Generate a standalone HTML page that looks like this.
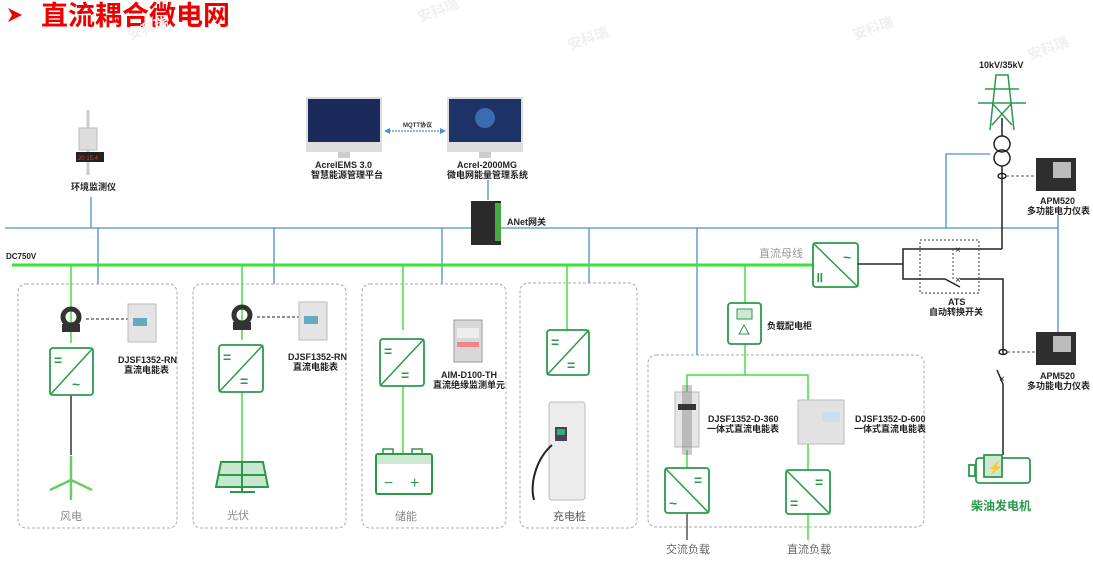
<!DOCTYPE html>
<html><head><meta charset="utf-8"><style>
html,body{margin:0;padding:0;background:#fff;}
svg{display:block;font-family:"Liberation Sans","Noto Sans CJK SC",sans-serif;}
.t{font-size:9px;font-weight:bold;fill:#222;}
.g{font-size:11px;fill:#888;}
</style></head><body>
<svg width="1093" height="561" viewBox="0 0 1093 561" xmlns="http://www.w3.org/2000/svg">
<polygon points="8,8 22,15 8,22 12,15" fill="#e00"/>
<text x="41" y="25" font-size="27" font-weight="bold" fill="#e00" font-family="Liberation Sans,Noto Sans CJK SC,sans-serif">直流耦合微电网</text>
<g fill="#efefef" font-size="14" font-weight="bold">
<text x="420" y="22" transform="rotate(-20 420 22)">安科瑞</text>
<text x="570" y="50" transform="rotate(-20 570 50)">安科瑞</text>
<text x="855" y="40" transform="rotate(-20 855 40)">安科瑞</text>
<text x="1030" y="60" transform="rotate(-20 1030 60)">安科瑞</text>
<text x="130" y="40" transform="rotate(-20 130 40)">安科瑞</text>
</g>

<g fill="none" stroke="#aaa" stroke-dasharray="3,2" stroke-width="1">
<rect x="18" y="284" width="159" height="244" rx="8"/>
<rect x="193" y="284" width="153" height="244" rx="8"/>
<rect x="362" y="284" width="144" height="244" rx="8"/>
<rect x="520" y="283" width="117" height="245" rx="8"/>
<rect x="648" y="355" width="276" height="172" rx="8"/>
</g>

<g stroke="#4a90d0" stroke-width="1.3" fill="none">
<line x1="5" y1="228" x2="1058" y2="228"/>
<line x1="91" y1="197" x2="91" y2="228"/>
<line x1="98" y1="228" x2="98" y2="284"/>
<line x1="274" y1="228" x2="274" y2="284"/>
<line x1="442" y1="228" x2="442" y2="284"/>
<line x1="589" y1="228" x2="589" y2="283"/>
<line x1="697" y1="228" x2="697" y2="355"/>
<polyline points="946,228 946,154 990,154"/>
<line x1="1058" y1="215" x2="1058" y2="332"/>
<line x1="488" y1="180" x2="488" y2="200"/>
<line x1="386" y1="131" x2="445" y2="131" stroke-dasharray="2,1"/>
</g>
<polygon points="384,131 390,128 390,134" fill="#4a90d0"/>
<polygon points="446,131 440,128 440,134" fill="#4a90d0"/>
<text x="403" y="127" font-size="6" font-weight="bold" fill="#333">MQTT协议</text>

<g stroke="#33e633" stroke-width="3"><line x1="12" y1="265" x2="815" y2="265"/></g>
<g stroke="#44dd44" stroke-width="1.5" fill="none">
<line x1="71" y1="265" x2="71" y2="343"/>
<line x1="242" y1="265" x2="242" y2="340"/>
<line x1="242" y1="385" x2="242" y2="462"/>
<line x1="403" y1="265" x2="403" y2="330"/>
<line x1="403" y1="378" x2="403" y2="455"/>
<line x1="567" y1="265" x2="567" y2="330"/>
<line x1="745" y1="265" x2="745" y2="303"/>
<line x1="745" y1="344" x2="745" y2="375"/>
<polyline points="687,395 687,375 808,375 808,400"/>
<line x1="687" y1="450" x2="687" y2="468"/>
<line x1="808" y1="444" x2="808" y2="470"/>
<line x1="808" y1="514" x2="808" y2="540"/>
</g>
<line x1="71" y1="395" x2="71" y2="455" stroke="#333" stroke-width="1.5"/>
<line x1="687" y1="513" x2="687" y2="540" stroke="#555" stroke-width="1.5"/>

<text x="6" y="259" font-size="8" font-weight="bold" fill="#222">DC750V</text>

<g fill="#fff" stroke="#2a9a4a" stroke-width="1.8">
<rect x="50" y="348" width="43" height="47" rx="3"/>
<rect x="219" y="345" width="44" height="47" rx="3"/>
<rect x="380" y="339" width="44" height="47" rx="3"/>
<rect x="547" y="330" width="42" height="45" rx="3"/>
<rect x="813" y="243" width="45" height="44" rx="3"/>
<rect x="665" y="468" width="44" height="45" rx="3"/>
<rect x="786" y="470" width="44" height="44" rx="3"/>
</g>
<g stroke="#2a9a4a" stroke-width="1.5">
<line x1="50" y1="395" x2="93" y2="348"/>
<line x1="219" y1="392" x2="263" y2="345"/>
<line x1="380" y1="386" x2="424" y2="339"/>
<line x1="547" y1="375" x2="589" y2="330"/>
<line x1="813" y1="243" x2="858" y2="287"/>
<line x1="665" y1="468" x2="709" y2="513"/>
<line x1="786" y1="470" x2="830" y2="514"/>
</g>
<g fill="#2a9a4a" font-size="14" font-weight="bold">
<text x="54" y="365">=</text><text x="72" y="389">~</text>
<text x="223" y="362">=</text><text x="240" y="386">=</text>
<text x="384" y="356">=</text><text x="401" y="380">=</text>
<text x="551" y="347">=</text><text x="567" y="370">=</text>
<text x="815" y="282">॥</text><text x="843" y="262">~</text>
<text x="694" y="485">=</text><text x="669" y="508">~</text>
<text x="815" y="487">=</text><text x="790" y="508">=</text>
</g>

<g>
<circle cx="71" cy="317" r="8" fill="none" stroke="#333" stroke-width="5"/>
<rect x="62" y="324" width="18" height="8" fill="#333"/>
<circle cx="242" cy="315" r="8" fill="none" stroke="#333" stroke-width="5"/>
<rect x="233" y="322" width="18" height="8" fill="#333"/>
<line x1="86" y1="319" x2="128" y2="319" stroke="#222" stroke-dasharray="3,2"/>
<line x1="257" y1="317" x2="299" y2="317" stroke="#222" stroke-dasharray="3,2"/>
<rect x="128" y="304" width="28" height="38" fill="#e4e4e4" stroke="#bbb"/>
<rect x="133" y="318" width="14" height="8" fill="#6ab"/>
<rect x="299" y="302" width="28" height="38" fill="#e4e4e4" stroke="#bbb"/>
<rect x="304" y="316" width="14" height="8" fill="#6ab"/>
<rect x="454" y="320" width="28" height="42" fill="#d8d8d8" stroke="#999"/>
<rect x="457" y="328" width="22" height="10" fill="#eee"/>
<rect x="457" y="342" width="22" height="5" fill="#e88"/>
</g>
<text class="t" x="118" y="363">DJSF1352-RN</text>
<text class="t" x="124" y="373">直流电能表</text>
<text class="t" x="288" y="360">DJSF1352-RN</text>
<text class="t" x="293" y="370">直流电能表</text>
<text class="t" x="441" y="378">AIM-D100-TH</text>
<text class="t" x="433" y="388">直流绝缘监测单元</text>

<g stroke="#6c6" stroke-width="2.5" fill="none">
<line x1="71" y1="480" x2="71" y2="500"/>
<line x1="71" y1="480" x2="71" y2="456"/>
<line x1="71" y1="480" x2="50" y2="490"/>
<line x1="71" y1="480" x2="92" y2="490"/>
</g>
<text class="g" x="60" y="520">风电</text>
<g stroke="#2a9a4a" stroke-width="2" fill="#c9e7cf">
<polygon points="221,462 263,462 268,487 216,487"/>
</g>
<line x1="242" y1="462" x2="242" y2="487" stroke="#2a9a4a" stroke-width="2"/>
<line x1="219" y1="475" x2="266" y2="475" stroke="#2a9a4a" stroke-width="2"/>
<line x1="242" y1="487" x2="242" y2="492" stroke="#2a9a4a" stroke-width="2"/>
<line x1="230" y1="492" x2="255" y2="492" stroke="#2a9a4a" stroke-width="2"/>
<text class="g" x="227" y="519">光伏</text>
<rect x="376" y="454" width="56" height="40" rx="2" fill="#fff" stroke="#2a9a4a" stroke-width="2"/>
<rect x="377" y="455" width="54" height="9" fill="#cfe8d4"/>
<rect x="383" y="449" width="10" height="5" fill="none" stroke="#2a9a4a" stroke-width="1.5"/>
<rect x="412" y="449" width="10" height="5" fill="none" stroke="#2a9a4a" stroke-width="1.5"/>
<text x="384" y="488" font-size="16" fill="#2a9a4a">−</text><text x="410" y="488" font-size="16" fill="#2a9a4a">+</text>
<text class="g" x="395" y="520">储能</text>
<rect x="549" y="402" width="36" height="98" rx="3" fill="#ececec" stroke="#bbb"/>
<rect x="555" y="427" width="12" height="14" fill="#445"/>
<rect x="557" y="429" width="8" height="6" fill="#3a7"/>
<path d="M552,445 C535,460 530,485 534,500" stroke="#222" stroke-width="2" fill="none"/>
<text class="g" x="553" y="520" style="fill:#555">充电桩</text>

<line x1="88" y1="110" x2="88" y2="175" stroke="#ccc" stroke-width="3"/>
<rect x="79" y="128" width="18" height="22" fill="#ddd" stroke="#bbb"/>
<rect x="76" y="152" width="28" height="10" fill="#222"/>
<text x="78" y="160" font-size="6" fill="#e33">20 15.4</text>
<text class="t" x="71" y="190">环境监测仪</text>

<rect x="306" y="97" width="76" height="55" fill="#ddd"/>
<rect x="308" y="99" width="72" height="43" fill="#1a2a5a"/>
<rect x="338" y="152" width="12" height="6" fill="#ccc"/>
<rect x="447" y="97" width="76" height="55" fill="#ddd"/>
<rect x="449" y="99" width="72" height="43" fill="#1d3368"/>
<circle cx="485" cy="118" r="10" fill="#3a6ab0"/>
<rect x="479" y="152" width="12" height="6" fill="#ccc"/>
<text class="t" x="315" y="168">AcrelEMS 3.0</text>
<text class="t" x="311" y="178">智慧能源管理平台</text>
<text class="t" x="457" y="168">Acrel-2000MG</text>
<text class="t" x="447" y="178">微电网能量管理系统</text>

<rect x="471" y="201" width="30" height="44" fill="#2b2b2b"/>
<rect x="495" y="203" width="6" height="38" fill="#4a4"/>
<text class="t" x="507" y="225">ANet网关</text>

<text class="g" x="759" y="257" style="fill:#999">直流母线</text>
<rect x="728" y="303" width="33" height="41" rx="3" fill="#fff" stroke="#2a9a4a" stroke-width="1.8"/>
<rect x="737" y="309" width="15" height="10" fill="#cfe8d4" stroke="#2a9a4a"/>
<polygon points="744,325 739,334 749,334" fill="none" stroke="#2a9a4a"/>
<text class="t" x="767" y="329">负载配电柜</text>

<rect x="675" y="392" width="24" height="55" fill="#e6e6e6" stroke="#bbb"/>
<rect x="682" y="385" width="10" height="70" fill="#777" opacity="0.4"/>
<rect x="678" y="404" width="18" height="6" fill="#333"/>
<rect x="798" y="400" width="46" height="44" fill="#e2e2e2" stroke="#bbb"/>
<rect x="822" y="412" width="18" height="10" fill="#cde"/>
<text class="t" x="708" y="422">DJSF1352-D-360</text>
<text class="t" x="707" y="432">一体式直流电能表</text>
<text class="t" x="855" y="422">DJSF1352-D-600</text>
<text class="t" x="854" y="432">一体式直流电能表</text>
<text class="g" x="666" y="553" style="fill:#666">交流负载</text>
<text class="g" x="787" y="553" style="fill:#666">直流负载</text>

<text class="t" x="979" y="68">10kV/35kV</text>
<g stroke="#2a9a4a" stroke-width="1.5" fill="none">
<polyline points="990,130 996,75 1008,75 1014,130"/>
<line x1="985" y1="89" x2="1019" y2="89"/>
<line x1="978" y1="103" x2="1026" y2="103"/>
<line x1="992" y1="103" x2="1012" y2="125"/>
<line x1="1012" y1="103" x2="992" y2="125"/>
</g>
<g stroke="#222" stroke-width="1.5" fill="none">
<circle cx="1002" cy="144" r="8"/>
<circle cx="1002" cy="158" r="8"/>
<line x1="1002" y1="118" x2="1002" y2="136"/>
<line x1="1002" y1="166" x2="1002" y2="249"/>
<ellipse cx="1002" cy="176" rx="4" ry="2.5"/>
<line x1="858" y1="264" x2="903" y2="264"/>
<polyline points="960,249 903,249 903,279 945,279 960,287"/>
<line x1="960" y1="249" x2="1002" y2="249"/>
<polyline points="960,279 1003,279 1003,355"/>
<ellipse cx="1003" cy="352" rx="4" ry="2.5"/>
<line x1="997" y1="370" x2="1003" y2="384"/>
<line x1="1003" y1="384" x2="1003" y2="455"/>
</g>
<line x1="953" y1="249" x2="953" y2="279" stroke="#444" stroke-dasharray="2,2"/>
<text x="955" y="253" font-size="10" fill="#222">×</text>
<text x="955" y="283" font-size="10" fill="#222">×</text>
<text x="999" y="382" font-size="10" fill="#222">×</text>
<rect x="920" y="240" width="59" height="53" fill="none" stroke="#333" stroke-dasharray="2,2"/>
<text class="t" x="948" y="305">ATS</text>
<text class="t" x="929" y="315">自动转换开关</text>
<g stroke="#555" stroke-dasharray="3,2"><line x1="1006" y1="176" x2="1036" y2="176"/><line x1="1007" y1="352" x2="1036" y2="352"/></g>
<rect x="1036" y="158" width="40" height="33" fill="#2e2e2e"/><rect x="1053" y="162" width="18" height="16" fill="#bbb"/>
<rect x="1036" y="332" width="40" height="33" fill="#2e2e2e"/><rect x="1053" y="336" width="18" height="16" fill="#bbb"/>
<text class="t" x="1040" y="204">APM520</text>
<text class="t" x="1027" y="214">多功能电力仪表</text>
<text class="t" x="1040" y="379">APM520</text>
<text class="t" x="1027" y="389">多功能电力仪表</text>
<g stroke="#2a9a4a" stroke-width="1.8" fill="#fff">
<rect x="976" y="458" width="54" height="25" rx="3"/>
<rect x="984" y="455" width="18" height="22" fill="#cfe8d4"/>
<rect x="969" y="465" width="6" height="11"/>
</g>
<text x="987" y="472" font-size="13" fill="#2a9a4a">⚡</text>
<text x="971" y="510" font-size="12" font-weight="bold" fill="#2a9a4a">柴油发电机</text>
</svg>
</body></html>
